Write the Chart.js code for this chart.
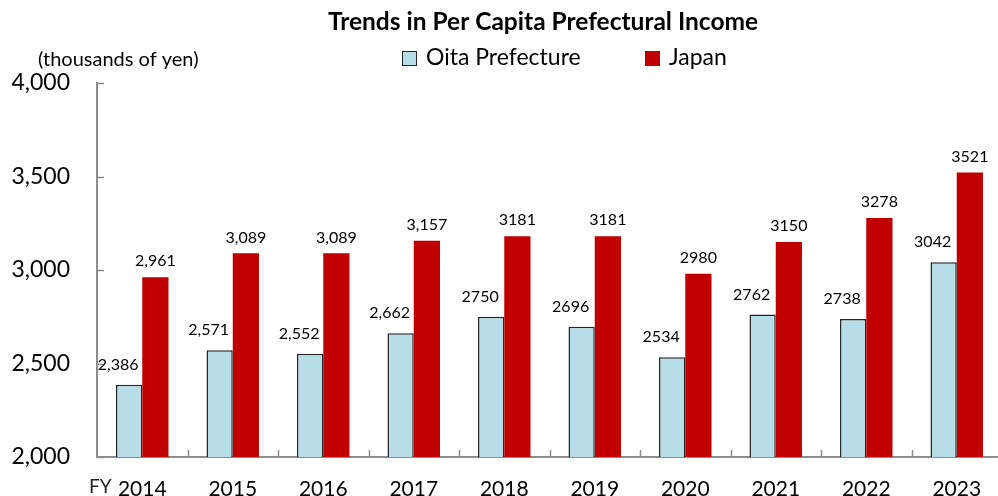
<!DOCTYPE html>
<html>
<head>
<meta charset="utf-8">
<script src="https://cdn.jsdelivr.net/npm/chart.js@4"></script>
<style>
  html, body { margin: 0; padding: 0; background: #fff; overflow: hidden; }
  #chart { display: block; }
</style>
</head>
<body>
<canvas id="chart" width="1004" height="496"></canvas>
<script>
const years = ['2014', '2015', '2016', '2017', '2018', '2019', '2020', '2021', '2022', '2023'];
const oitaIncome = [2386, 2571, 2552, 2662, 2750, 2696, 2534, 2762, 2738, 3042];
const japanIncome = [2961, 3089, 3089, 3157, 3181, 3181, 2980, 3150, 3278, 3521];
const yTicks = [2000, 2500, 3000, 3500, 4000];

const FONT = 'Lato, "Noto Sans", sans-serif';
const AXIS_GREY = '#8c8c8c';

// labels up to FY2017 carry a thousands comma, later ones don't
const fmtLabel = (v, i) => (Number(years[i]) < 2018 ? v.toLocaleString('en-US') : String(v));

// title, legend, unit note, inward ticks and bar labels
const decorations = {
    id: 'decorations',
    afterDraw(chart) {
        const ctx = chart.ctx;
        const { x, y } = chart.scales;
        ctx.save();

        // title
        ctx.fillStyle = '#000';
        ctx.font = 'bold 24.5px ' + FONT;
        ctx.textAlign = 'center';
        ctx.textBaseline = 'middle';
        ctx.fillText('Trends in Per Capita Prefectural Income', 543, 22);

        // legend
        const legendX = [402, 645];
        chart.data.datasets.forEach((ds, i) => {
            const bx = legendX[i];
            ctx.fillStyle = ds.backgroundColor;
            ctx.fillRect(bx, 51, 15, 15);
            if (ds.borderWidth) {
                ctx.strokeStyle = ds.borderColor;
                ctx.lineWidth = 1;
                ctx.strokeRect(bx + 0.5, 51.5, 14, 14);
            }
            ctx.fillStyle = '#000';
            ctx.font = '23px ' + FONT;
            ctx.textAlign = 'left';
            ctx.fillText(ds.label, bx + 24, 58);
        });

        // unit note and FY prefix
        ctx.font = '20px ' + FONT;
        ctx.textAlign = 'left';
        ctx.fillText('(thousands of yen)', 38, 60);
        ctx.font = '19px ' + FONT;
        ctx.fillStyle = '#222';
        ctx.fillText('FY', 89, 487);

        // inward tick marks
        ctx.strokeStyle = AXIS_GREY;
        ctx.lineWidth = 1.5;
        ctx.beginPath();
        yTicks.forEach(t => {
            const py = Math.round(y.getPixelForValue(t)) + 0.5;
            ctx.moveTo(x.left, py);
            ctx.lineTo(x.left + 7, py);
        });
        for (let i = 1; i < years.length; i++) {
            const px = Math.round((x.getPixelForValue(i) + x.getPixelForValue(i - 1)) / 2) + 0.5;
            ctx.moveTo(px, y.bottom);
            ctx.lineTo(px, y.bottom - 7);
        }
        ctx.stroke();

        // value labels
        ctx.fillStyle = '#000';
        ctx.font = '16px ' + FONT;
        ctx.textAlign = 'center';
        chart.data.datasets.forEach((ds, di) => {
            const meta = chart.getDatasetMeta(di);
            meta.data.forEach((bar, i) => {
                const dx = di === 0 ? -11 : 0;
                const dy = di === 0 ? 20 : 16;
                ctx.fillText(fmtLabel(ds.data[i], i), bar.x + dx, bar.y - dy);
            });
        });
        ctx.restore();
    }
};

new Chart(document.getElementById('chart'), {
    type: 'bar',
    data: {
        labels: years,
        datasets: [
            {
                label: 'Oita Prefecture',
                data: oitaIncome,
                backgroundColor: '#b7dde8',
                borderColor: '#262626',
                borderWidth: { top: 1.5, left: 1.5, right: 1.5, bottom: 0 },
                barPercentage: 1,
                categoryPercentage: 0.58,
            },
            {
                label: 'Japan',
                data: japanIncome,
                backgroundColor: '#c00000',
                borderWidth: 0,
                barPercentage: 1,
                categoryPercentage: 0.58,
            }
        ]
    },
    options: {
        responsive: false,
        animation: false,
        layout: { padding: { top: 83, right: 2, left: 0, bottom: 0 } },
        scales: {
            x: {
                grid: { display: false },
                border: { display: true, color: AXIS_GREY, width: 2 },
                ticks: { color: '#000', font: { family: FONT, size: 21 }, padding: 12, maxRotation: 0 },
                afterFit: s => { s.height = 39; }
            },
            y: {
                min: 2000, max: 4000,
                grid: { display: false },
                border: { display: true, color: AXIS_GREY, width: 2 },
                afterBuildTicks: s => { s.ticks = yTicks.map(v => ({ value: v })); },
                ticks: {
                    color: '#000',
                    font: { family: FONT, size: 23 },
                    padding: 19,
                    callback: v => v.toLocaleString('en-US')
                },
                afterFit: s => { s.width = 97; }
            }
        },
        plugins: {
            legend: { display: false },
            tooltip: { enabled: false }
        }
    },
    plugins: [decorations]
});
</script>
</body>
</html>
